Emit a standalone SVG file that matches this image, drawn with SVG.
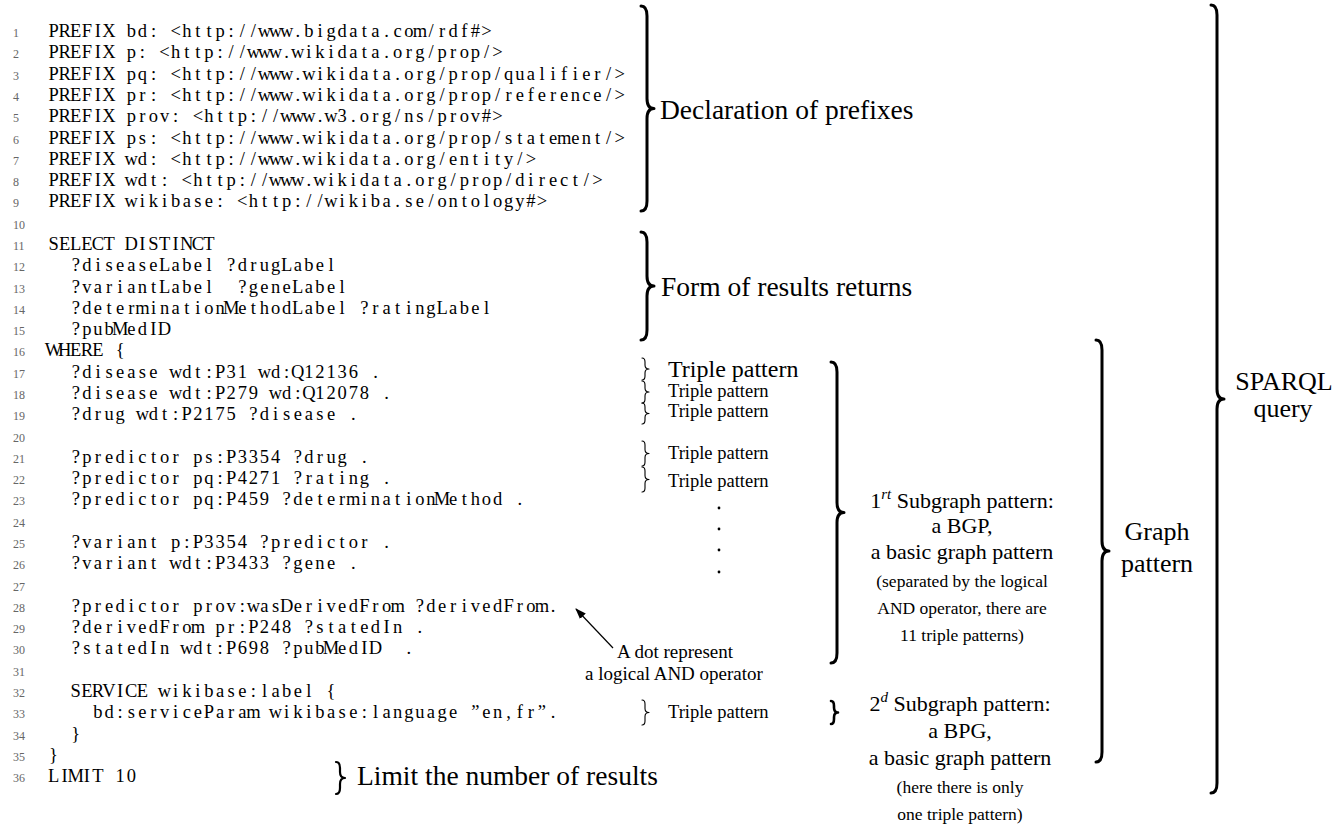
<svg xmlns="http://www.w3.org/2000/svg" width="1334" height="825" viewBox="0 0 1334 825">
<style>
.code{font-family:"Liberation Serif","Times New Roman",serif;font-size:18.5px;fill:#000;white-space:pre;text-anchor:middle}
.ln{font-family:"Liberation Serif","Times New Roman",serif;font-size:12px;fill:#666}
.lbl{font-family:"Liberation Serif","Times New Roman",serif;fill:#000}
.brace{fill:none;stroke:#000;stroke-linecap:round;stroke-linejoin:round}
.big{stroke-width:3}
.thin{stroke-width:1.1}
</style>
<defs>
<marker id="ah" markerUnits="userSpaceOnUse" markerWidth="11" markerHeight="8" refX="10" refY="4" orient="auto">
<path d="M0,0 L11,4 L0,8 z" fill="#000"/>
</marker>
</defs>
<rect width="1334" height="825" fill="#fff"/>
<g id="line-numbers" class="ln">
<text x="13" y="37">1</text><text x="13" y="58.3">2</text><text x="13" y="79.6">3</text><text x="13" y="100.9">4</text><text x="13" y="122.2">5</text><text x="13" y="143.5">6</text><text x="13" y="164.7">7</text><text x="13" y="186">8</text><text x="13" y="207.3">9</text><text x="13" y="228.6">10</text><text x="13" y="249.9">11</text><text x="13" y="271.2">12</text><text x="13" y="292.5">13</text><text x="13" y="313.8">14</text><text x="13" y="335.1">15</text><text x="13" y="356.4">16</text><text x="13" y="377.6">17</text><text x="13" y="398.9">18</text><text x="13" y="420.2">19</text><text x="13" y="441.5">20</text><text x="13" y="462.8">21</text><text x="13" y="484.1">22</text><text x="13" y="505.4">23</text><text x="13" y="526.7">24</text><text x="13" y="548">25</text><text x="13" y="569.3">26</text><text x="13" y="590.5">27</text><text x="13" y="611.8">28</text><text x="13" y="633.1">29</text><text x="13" y="654.4">30</text><text x="13" y="675.7">31</text><text x="13" y="697">32</text><text x="13" y="718.3">33</text><text x="13" y="739.6">34</text><text x="13" y="760.9">35</text><text x="13" y="782.2">36</text>
</g>
<g id="code" class="code" xml:space="preserve">
<text y="37" x="53.55 64.65 75.75 86.85 97.95 109.05 120.15 131.25 142.35 153.45 164.55 175.65 186.75 197.85 208.95 220.05 231.15 242.25 253.35 264.45 275.55 286.65 297.75 308.85 319.95 331.05 342.15 353.25 364.35 375.45 386.55 397.65 408.75 419.85 430.95 442.05 453.15 464.25 475.35 486.45 497.55 508.65 519.75 530.85 541.95 553.05 564.15 575.25 586.35 597.45 608.55 619.65 630.75">PREFIX bd: &lt;http://www.bigdata.com/rdf#&gt;</text>
<text y="58.3" x="53.55 64.65 75.75 86.85 97.95 109.05 120.15 131.25 142.35 153.45 164.55 175.65 186.75 197.85 208.95 220.05 231.15 242.25 253.35 264.45 275.55 286.65 297.75 308.85 319.95 331.05 342.15 353.25 364.35 375.45 386.55 397.65 408.75 419.85 430.95 442.05 453.15 464.25 475.35 486.45 497.55 508.65 519.75 530.85 541.95 553.05 564.15 575.25 586.35 597.45 608.55 619.65 630.75">PREFIX p: &lt;http://www.wikidata.org/prop/&gt;</text>
<text y="79.6" x="53.55 64.65 75.75 86.85 97.95 109.05 120.15 131.25 142.35 153.45 164.55 175.65 186.75 197.85 208.95 220.05 231.15 242.25 253.35 264.45 275.55 286.65 297.75 308.85 319.95 331.05 342.15 353.25 364.35 375.45 386.55 397.65 408.75 419.85 430.95 442.05 453.15 464.25 475.35 486.45 497.55 508.65 519.75 530.85 541.95 553.05 564.15 575.25 586.35 597.45 608.55 619.65 630.75">PREFIX pq: &lt;http://www.wikidata.org/prop/qualifier/&gt;</text>
<text y="100.9" x="53.55 64.65 75.75 86.85 97.95 109.05 120.15 131.25 142.35 153.45 164.55 175.65 186.75 197.85 208.95 220.05 231.15 242.25 253.35 264.45 275.55 286.65 297.75 308.85 319.95 331.05 342.15 353.25 364.35 375.45 386.55 397.65 408.75 419.85 430.95 442.05 453.15 464.25 475.35 486.45 497.55 508.65 519.75 530.85 541.95 553.05 564.15 575.25 586.35 597.45 608.55 619.65 630.75">PREFIX pr: &lt;http://www.wikidata.org/prop/reference/&gt;</text>
<text y="122.2" x="53.55 64.65 75.75 86.85 97.95 109.05 120.15 131.25 142.35 153.45 164.55 175.65 186.75 197.85 208.95 220.05 231.15 242.25 253.35 264.45 275.55 286.65 297.75 308.85 319.95 331.05 342.15 353.25 364.35 375.45 386.55 397.65 408.75 419.85 430.95 442.05 453.15 464.25 475.35 486.45 497.55 508.65 519.75 530.85 541.95 553.05 564.15 575.25 586.35 597.45 608.55 619.65 630.75">PREFIX prov: &lt;http://www.w3.org/ns/prov#&gt;</text>
<text y="143.5" x="53.55 64.65 75.75 86.85 97.95 109.05 120.15 131.25 142.35 153.45 164.55 175.65 186.75 197.85 208.95 220.05 231.15 242.25 253.35 264.45 275.55 286.65 297.75 308.85 319.95 331.05 342.15 353.25 364.35 375.45 386.55 397.65 408.75 419.85 430.95 442.05 453.15 464.25 475.35 486.45 497.55 508.65 519.75 530.85 541.95 553.05 564.15 575.25 586.35 597.45 608.55 619.65 630.75">PREFIX ps: &lt;http://www.wikidata.org/prop/statement/&gt;</text>
<text y="164.7" x="53.55 64.65 75.75 86.85 97.95 109.05 120.15 131.25 142.35 153.45 164.55 175.65 186.75 197.85 208.95 220.05 231.15 242.25 253.35 264.45 275.55 286.65 297.75 308.85 319.95 331.05 342.15 353.25 364.35 375.45 386.55 397.65 408.75 419.85 430.95 442.05 453.15 464.25 475.35 486.45 497.55 508.65 519.75 530.85 541.95 553.05 564.15 575.25 586.35 597.45 608.55 619.65 630.75">PREFIX wd: &lt;http://www.wikidata.org/entity/&gt;</text>
<text y="186" x="53.55 64.65 75.75 86.85 97.95 109.05 120.15 131.25 142.35 153.45 164.55 175.65 186.75 197.85 208.95 220.05 231.15 242.25 253.35 264.45 275.55 286.65 297.75 308.85 319.95 331.05 342.15 353.25 364.35 375.45 386.55 397.65 408.75 419.85 430.95 442.05 453.15 464.25 475.35 486.45 497.55 508.65 519.75 530.85 541.95 553.05 564.15 575.25 586.35 597.45 608.55 619.65 630.75">PREFIX wdt: &lt;http://www.wikidata.org/prop/direct/&gt;</text>
<text y="207.3" x="53.55 64.65 75.75 86.85 97.95 109.05 120.15 131.25 142.35 153.45 164.55 175.65 186.75 197.85 208.95 220.05 231.15 242.25 253.35 264.45 275.55 286.65 297.75 308.85 319.95 331.05 342.15 353.25 364.35 375.45 386.55 397.65 408.75 419.85 430.95 442.05 453.15 464.25 475.35 486.45 497.55 508.65 519.75 530.85 541.95 553.05 564.15 575.25 586.35 597.45 608.55 619.65 630.75">PREFIX wikibase: &lt;http://wikiba.se/ontology#&gt;</text>
<text y="249.9" x="53.55 64.65 75.75 86.85 97.95 109.05 120.15 131.25 142.35 153.45 164.55 175.65 186.75 197.85 208.95 220.05">SELECT DISTINCT</text>
<text y="271.2" x="75.75 86.85 97.95 109.05 120.15 131.25 142.35 153.45 164.55 175.65 186.75 197.85 208.95 220.05 231.15 242.25 253.35 264.45 275.55 286.65 297.75 308.85 319.95 331.05 342.15 353.25">?diseaseLabel ?drugLabel</text>
<text y="292.5" xml:space="preserve" x="75.75 86.85 97.95 109.05 120.15 131.25 142.35 153.45 164.55 175.65 186.75 197.85 208.95 220.05 231.15 242.25 253.35 264.45 275.55 286.65 297.75 308.85 319.95 331.05 342.15 353.25">?variantLabel  ?geneLabel</text>
<text y="313.8" x="75.75 86.85 97.95 109.05 120.15 131.25 142.35 153.45 164.55 175.65 186.75 197.85 208.95 220.05 231.15 242.25 253.35 264.45 275.55 286.65 297.75 308.85 319.95 331.05 342.15 353.25 364.35 375.45 386.55 397.65 408.75 419.85 430.95 442.05 453.15 464.25 475.35 486.45 497.55 508.65">?determinationMethodLabel ?ratingLabel</text>
<text y="335.1" x="75.75 86.85 97.95 109.05 120.15 131.25 142.35 153.45 164.55 175.65">?pubMedID</text>
<text y="356.4" x="53.55 64.65 75.75 86.85 97.95 109.05 120.15 131.25">WHERE {</text>
<text y="377.6" x="75.75 86.85 97.95 109.05 120.15 131.25 142.35 153.45 164.55 175.65 186.75 197.85 208.95 220.05 231.15 242.25 253.35 264.45 275.55 286.65 297.75 308.85 319.95 331.05 342.15 353.25 364.35 375.45 386.55 397.65">?disease wdt:P31 wd:Q12136 .</text>
<text y="398.9" x="75.75 86.85 97.95 109.05 120.15 131.25 142.35 153.45 164.55 175.65 186.75 197.85 208.95 220.05 231.15 242.25 253.35 264.45 275.55 286.65 297.75 308.85 319.95 331.05 342.15 353.25 364.35 375.45 386.55 397.65">?disease wdt:P279 wd:Q12078 .</text>
<text y="420.2" x="75.75 86.85 97.95 109.05 120.15 131.25 142.35 153.45 164.55 175.65 186.75 197.85 208.95 220.05 231.15 242.25 253.35 264.45 275.55 286.65 297.75 308.85 319.95 331.05 342.15 353.25 364.35 375.45">?drug wdt:P2175 ?disease .</text>
<text y="462.8" x="75.75 86.85 97.95 109.05 120.15 131.25 142.35 153.45 164.55 175.65 186.75 197.85 208.95 220.05 231.15 242.25 253.35 264.45 275.55 286.65 297.75 308.85 319.95 331.05 342.15 353.25 364.35 375.45">?predictor ps:P3354 ?drug .</text>
<text y="484.1" x="75.75 86.85 97.95 109.05 120.15 131.25 142.35 153.45 164.55 175.65 186.75 197.85 208.95 220.05 231.15 242.25 253.35 264.45 275.55 286.65 297.75 308.85 319.95 331.05 342.15 353.25 364.35 375.45 386.55 397.65">?predictor pq:P4271 ?rating .</text>
<text y="505.4" x="75.75 86.85 97.95 109.05 120.15 131.25 142.35 153.45 164.55 175.65 186.75 197.85 208.95 220.05 231.15 242.25 253.35 264.45 275.55 286.65 297.75 308.85 319.95 331.05 342.15 353.25 364.35 375.45 386.55 397.65 408.75 419.85 430.95 442.05 453.15 464.25 475.35 486.45 497.55 508.65 519.75 530.85">?predictor pq:P459 ?determinationMethod .</text>
<text y="548" x="75.75 86.85 97.95 109.05 120.15 131.25 142.35 153.45 164.55 175.65 186.75 197.85 208.95 220.05 231.15 242.25 253.35 264.45 275.55 286.65 297.75 308.85 319.95 331.05 342.15 353.25 364.35 375.45 386.55 397.65">?variant p:P3354 ?predictor .</text>
<text y="569.3" x="75.75 86.85 97.95 109.05 120.15 131.25 142.35 153.45 164.55 175.65 186.75 197.85 208.95 220.05 231.15 242.25 253.35 264.45 275.55 286.65 297.75 308.85 319.95 331.05 342.15 353.25 364.35 375.45">?variant wdt:P3433 ?gene .</text>
<text y="611.8" x="75.75 86.85 97.95 109.05 120.15 131.25 142.35 153.45 164.55 175.65 186.75 197.85 208.95 220.05 231.15 242.25 253.35 264.45 275.55 286.65 297.75 308.85 319.95 331.05 342.15 353.25 364.35 375.45 386.55 397.65 408.75 419.85 430.95 442.05 453.15 464.25 475.35 486.45 497.55 508.65 519.75 530.85 541.95 553.05 564.15 575.25">?predictor prov:wasDerivedFrom ?derivedFrom.</text>
<text y="633.1" x="75.75 86.85 97.95 109.05 120.15 131.25 142.35 153.45 164.55 175.65 186.75 197.85 208.95 220.05 231.15 242.25 253.35 264.45 275.55 286.65 297.75 308.85 319.95 331.05 342.15 353.25 364.35 375.45 386.55 397.65 408.75 419.85 430.95">?derivedFrom pr:P248 ?statedIn .</text>
<text y="654.4" xml:space="preserve" x="75.75 86.85 97.95 109.05 120.15 131.25 142.35 153.45 164.55 175.65 186.75 197.85 208.95 220.05 231.15 242.25 253.35 264.45 275.55 286.65 297.75 308.85 319.95 331.05 342.15 353.25 364.35 375.45 386.55 397.65 408.75 419.85 430.95">?statedIn wdt:P698 ?pubMedID  .</text>
<text y="697" x="75.75 86.85 97.95 109.05 120.15 131.25 142.35 153.45 164.55 175.65 186.75 197.85 208.95 220.05 231.15 242.25 253.35 264.45 275.55 286.65 297.75 308.85 319.95 331.05 342.15">SERVICE wikibase:label {</text>
<text y="718.3" x="97.95 109.05 120.15 131.25 142.35 153.45 164.55 175.65 186.75 197.85 208.95 220.05 231.15 242.25 253.35 264.45 275.55 286.65 297.75 308.85 319.95 331.05 342.15 353.25 364.35 375.45 386.55 397.65 408.75 419.85 430.95 442.05 453.15 464.25 475.35 486.45 497.55 508.65 519.75 530.85 541.95 553.05 564.15">bd:serviceParam wikibase:language ”en,fr”.</text>
<text y="739.6" x="75.75">}</text>
<text y="760.9" x="53.55">}</text>
<text y="782.2" x="53.55 64.65 75.75 86.85 97.95 109.05 120.15 131.25 142.35">LIMIT 10</text>
</g>
<g id="connectors">
<line x1="613" y1="648" x2="576" y2="609" stroke="#000" stroke-width="1.2" marker-end="url(#ah)"/>
</g>
<g id="declaration">
<path class="brace big" d="M641,6 Q647,6 647,16 L647,98.5 Q647,108.5 654,108.5 Q647,108.5 647,118.5 L647,201 Q647,211 641,211"/>
<text class="lbl" x="660" y="119" font-size="27.5">Declaration of prefixes</text>
</g>
<g id="form-results">
<path class="brace big" d="M641,232 Q647,232 647,242 L647,276 Q647,286 654,286 Q647,286 647,296 L647,330 Q647,340 641,340"/>
<text class="lbl" x="661" y="296" font-size="27.5">Form of results returns</text>
</g>
<g id="triple-patterns">
<path class="brace thin" d="M642,358 Q645,358 645,362 L645,365 Q645,369 649,369 Q645,369 645,373 L645,376 Q645,380 642,380"/>
<text class="lbl" x="668" y="377" font-size="24">Triple pattern</text>
<path class="brace thin" d="M642,381 Q645,381 645,385 L645,388 Q645,392 649,392 Q645,392 645,396 L645,399 Q645,403 642,403"/>
<text class="lbl" x="668" y="397" font-size="18.5">Triple pattern</text>
<path class="brace thin" d="M642,403 Q645,403 645,407 L645,409.5 Q645,413.5 649,413.5 Q645,413.5 645,417.5 L645,420 Q645,424 642,424"/>
<text class="lbl" x="668" y="417" font-size="18.5">Triple pattern</text>
<path class="brace thin" d="M642,441 Q645,441 645,445 L645,449.5 Q645,453.5 649,453.5 Q645,453.5 645,457.5 L645,462 Q645,466 642,466"/>
<text class="lbl" x="668" y="459" font-size="18.5">Triple pattern</text>
<path class="brace thin" d="M642,467 Q645,467 645,471 L645,475.5 Q645,479.5 649,479.5 Q645,479.5 645,483.5 L645,488 Q645,492 642,492"/>
<text class="lbl" x="668" y="487" font-size="18.5">Triple pattern</text>
<g fill="#000"><circle cx="719" cy="508" r="1.4"/><circle cx="719" cy="529" r="1.4"/><circle cx="719" cy="550" r="1.4"/><circle cx="719" cy="572" r="1.4"/></g>
<path class="brace thin" d="M642,700 Q645,700 645,704 L645,708.5 Q645,712.5 649,712.5 Q645,712.5 645,716.5 L645,721 Q645,725 642,725"/>
<text class="lbl" x="668" y="718" font-size="18.5">Triple pattern</text>
</g>
<g id="dot-note" class="lbl" font-size="19" text-anchor="middle">
<text x="675" y="658">A dot represent</text>
<text x="674" y="680">a logical AND operator</text>
</g>
<g id="limit">
<path class="brace" stroke-width="2.2" d="M336,762 Q340,762 340,768 L340,772 Q340,778 345,778 Q340,778 340,784 L340,788 Q340,794 336,794"/>
<text class="lbl" x="357" y="785" font-size="27.5">Limit the number of results</text>
</g>
<g id="subgraph-1">
<path class="brace big" d="M831,362 Q837,362 837,372 L837,502.5 Q837,512.5 844,512.5 Q837,512.5 837,522.5 L837,653 Q837,663 831,663"/>
<g class="lbl" text-anchor="middle">
<text x="962" y="508" font-size="22">1<tspan dy="-9" font-size="15" font-style="italic">rt</tspan><tspan dy="9"> Subgraph pattern:</tspan></text>
<text x="962" y="533" font-size="22">a BGP,</text>
<text x="962" y="559" font-size="22">a basic graph pattern</text>
<text x="962" y="587" font-size="17.5">(separated by the logical</text>
<text x="962" y="614" font-size="17.5">AND operator, there are</text>
<text x="962" y="641" font-size="17.5">11 triple patterns)</text>
</g>
</g>
<g id="subgraph-2">
<path class="brace" stroke-width="2.6" d="M831,701 Q834,701 834,706 L834,707.5 Q834,712.5 838,712.5 Q834,712.5 834,717.5 L834,719 Q834,724 831,724"/>
<g class="lbl" text-anchor="middle">
<text x="960" y="711" font-size="22">2<tspan dy="-9" font-size="15" font-style="italic">d</tspan><tspan dy="9"> Subgraph pattern:</tspan></text>
<text x="960" y="738" font-size="22">a BPG,</text>
<text x="960" y="765" font-size="22">a basic graph pattern</text>
<text x="960" y="793" font-size="17.5">(here there is only</text>
<text x="960" y="820" font-size="17.5">one triple pattern)</text>
</g>
</g>
<g id="graph-pattern">
<path class="brace big" d="M1096,340 Q1102,340 1102,350 L1102,541 Q1102,551 1109,551 Q1102,551 1102,561 L1102,752 Q1102,762 1096,762"/>
<g class="lbl" text-anchor="middle" font-size="26">
<text x="1157" y="540">Graph</text>
<text x="1157" y="572">pattern</text>
</g>
</g>
<g id="sparql-query">
<path class="brace big" d="M1211,5 Q1217,5 1217,15 L1217,389 Q1217,399 1224,399 Q1217,399 1217,409 L1217,783 Q1217,793 1211,793"/>
<g class="lbl" text-anchor="middle" font-size="26">
<text x="1284" y="390">SPARQL</text>
<text x="1283" y="417">query</text>
</g>
</g>
</svg>
